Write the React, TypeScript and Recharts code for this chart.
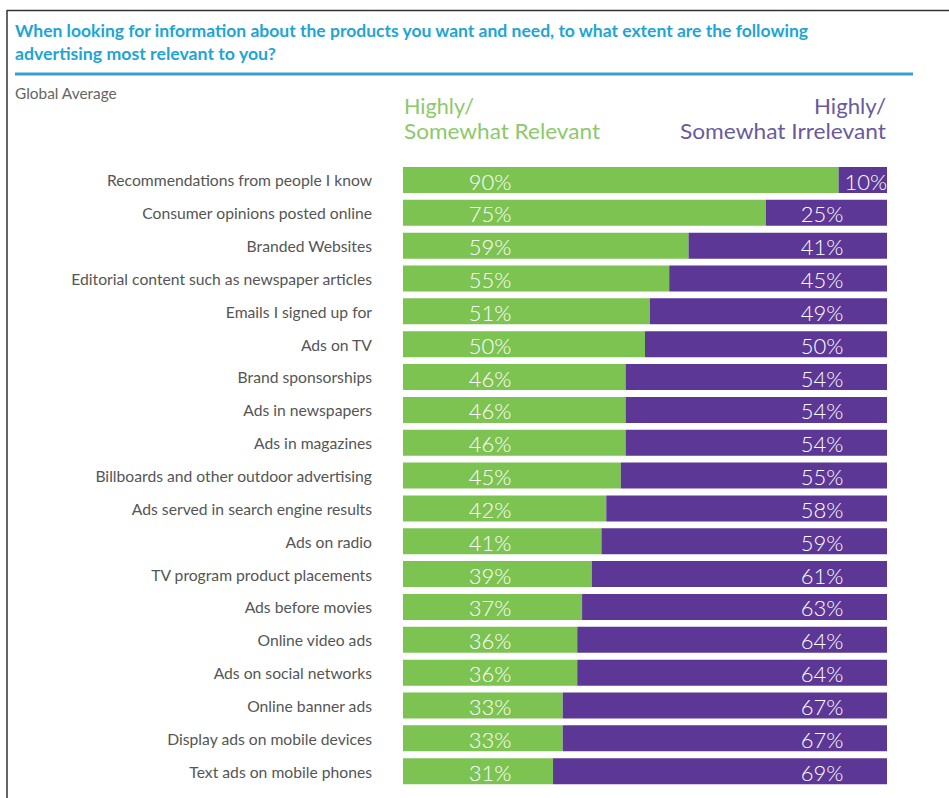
import React from "react";
import { BarChart, Bar, XAxis, YAxis, LabelList } from "recharts";

const categories = [
  "Recommendations from people I know",
  "Consumer opinions posted online",
  "Branded Websites",
  "Editorial content such as newspaper articles",
  "Emails I signed up for",
  "Ads on TV",
  "Brand sponsorships",
  "Ads in newspapers",
  "Ads in magazines",
  "Billboards and other outdoor advertising",
  "Ads served in search engine results",
  "Ads on radio",
  "TV program product placements",
  "Ads before movies",
  "Online video ads",
  "Ads on social networks",
  "Online banner ads",
  "Display ads on mobile devices",
  "Text ads on mobile phones",
];
const relevant = [90, 75, 59, 55, 51, 50, 46, 46, 46, 45, 42, 41, 39, 37, 36, 36, 33, 33, 31];
const irrelevant = [10, 25, 41, 45, 49, 50, 54, 54, 54, 55, 58, 59, 61, 63, 64, 64, 67, 67, 69];

const titleLines = [
  "When looking for information about the products you want and need, to what extent are the following",
  "advertising most relevant to you?",
];
const subtitle = "Global Average";
const relevantHeader = ["Highly/", "Somewhat Relevant"];
const irrelevantHeader = ["Highly/", "Somewhat Irrelevant"];

const data = categories.map((name, i) => ({
  name,
  relevant: relevant[i],
  irrelevant: irrelevant[i],
}));

const GREEN = "#7dc352";
const PURPLE = "#5c3796";
const LABEL_FONT = "Lato, 'Open Sans', sans-serif";

const CategoryTick = (props: any) => {
  const { x, y, payload } = props;
  return (
    <text
      x={x}
      y={y}
      textAnchor="end"
      dominantBaseline="central"
      fontFamily={LABEL_FONT}
      fontSize={15.7}
      fill="#555555"
    >
      {payload.value}
    </text>
  );
};

const GreenLabel = (props: any) => {
  const { x, y, height, value } = props;
  return (
    <text
      x={x + 87}
      y={y + height / 2 + 1}
      textAnchor="middle"
      dominantBaseline="central"
      fontFamily={LABEL_FONT}
      fontWeight={300}
      fontSize={22}
      fill="#ffffff"
    >
      {value}%
    </text>
  );
};

const PurpleLabel = (props: any) => {
  const { x, y, width, height, value } = props;
  const cx = width > 80 ? x + width - 65 : x + width / 2 + 3;
  return (
    <text
      x={cx}
      y={y + height / 2 + 1}
      textAnchor="middle"
      dominantBaseline="central"
      fontFamily={LABEL_FONT}
      fontWeight={300}
      fontSize={22}
      fill="#ffffff"
    >
      {value}%
    </text>
  );
};

export default function App() {
  return (
    <div
      style={{
        position: "absolute",
        left: 0,
        top: 0,
        width: 949,
        height: 798,
        background: "#ffffff",
        overflow: "hidden",
      }}
    >
      <BarChart
        width={949}
        height={798}
        data={data}
        layout="vertical"
        margin={{ top: 164, right: 62, bottom: 10, left: 0 }}
        barSize={26}
      >
        <XAxis type="number" domain={[0, 100]} hide />
        <YAxis
          type="category"
          dataKey="name"
          width={403}
          axisLine={false}
          tickLine={false}
          tickSize={0}
          tickMargin={31}
          tick={<CategoryTick />}
          interval={0}
        />
        <Bar dataKey="relevant" stackId="a" fill={GREEN} isAnimationActive={false}>
          <LabelList dataKey="relevant" content={<GreenLabel />} />
        </Bar>
        <Bar dataKey="irrelevant" stackId="a" fill={PURPLE} isAnimationActive={false}>
          <LabelList dataKey="irrelevant" content={<PurpleLabel />} />
        </Bar>
      </BarChart>
      <svg
        width={949}
        height={798}
        style={{ position: "absolute", left: 0, top: 0, pointerEvents: "none" }}
      >
        <line x1={7} y1={10.5} x2={949} y2={10.5} stroke="#333" strokeWidth={1.5} />
        <line x1={7} y1={10} x2={7} y2={798} stroke="#333" strokeWidth={1.5} />
        <text
          x={15}
          y={37}
          fontFamily={LABEL_FONT}
          fontWeight={700}
          fontSize={17}
          fill="#1ea5d5"
          textLength={793}
          lengthAdjust="spacingAndGlyphs"
        >
          {titleLines[0]}
        </text>
        <text
          x={15}
          y={60}
          fontFamily={LABEL_FONT}
          fontWeight={700}
          fontSize={17}
          fill="#1ea5d5"
          textLength={261}
          lengthAdjust="spacingAndGlyphs"
        >
          {titleLines[1]}
        </text>
        <line x1={15} y1={74} x2={913} y2={74} stroke="#3a9fcb" strokeWidth={3} />
        <text x={15} y={99} fontFamily={LABEL_FONT} fontSize={15.4} fill="#666666">
          {subtitle}
        </text>
        <text x={404} y={114} fontFamily={LABEL_FONT} fontSize={20.5} fill="#8cc96a"
          textLength={70} lengthAdjust="spacingAndGlyphs">
          {relevantHeader[0]}
        </text>
        <text x={404} y={139} fontFamily={LABEL_FONT} fontSize={20.5} fill="#8cc96a"
          textLength={196} lengthAdjust="spacingAndGlyphs">
          {relevantHeader[1]}
        </text>
        <text x={886} y={114} textAnchor="end" fontFamily={LABEL_FONT} fontSize={20.5} fill="#6a5a9c"
          textLength={72} lengthAdjust="spacingAndGlyphs">
          {irrelevantHeader[0]}
        </text>
        <text x={886} y={139} textAnchor="end" fontFamily={LABEL_FONT} fontSize={20.5} fill="#6a5a9c"
          textLength={206} lengthAdjust="spacingAndGlyphs">
          {irrelevantHeader[1]}
        </text>
      </svg>
    </div>
  );
}
